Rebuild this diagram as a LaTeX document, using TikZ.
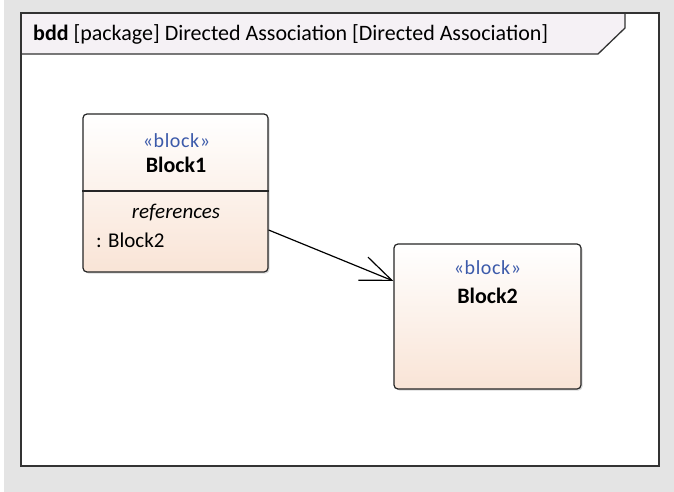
\documentclass[tikz,border=0pt]{standalone}
\usepackage{fontspec}
\setmainfont{Carlito}
\usetikzlibrary{arrows.meta,shadows}
\definecolor{bggray}{RGB}{228,228,228}
\definecolor{hdrfill}{RGB}{245,241,245}
\definecolor{peach}{RGB}{249,228,214}
\definecolor{stereo}{RGB}{60,90,170}

\begin{document}
\begin{tikzpicture}[x=1pt,y=-1pt,
    block/.style ={draw=black!85, line width=1.2pt, rounded corners=4pt,
       top color=white, bottom color=peach, drop shadow={shadow xshift=1.5pt,shadow yshift=-1.5pt,opacity=0.3}},
    stereotype/.style ={anchor=base, text=stereo, inner sep=0pt,
       font=\fontsize{20}{22}\selectfont\addfontfeatures{LetterSpace=3}},
    blockname/.style ={anchor=base, inner sep=0pt, font=\fontsize{22}{24}\selectfont\bfseries},
    compart/.style ={inner sep=0pt, font=\fontsize{21}{23}\selectfont}]
   \useasboundingbox (0,0) rectangle (674,492);
   \fill[bggray] (4,0) rectangle (674,492);
   % frame
   \draw[white, fill=white] (21,13) rectangle (659,466);
   \draw[hdrfill, fill=hdrfill] (21,13) -- (625,13) -- (625,28) -- (598,54) -- (21,54) -- cycle;
   \draw[black!80, line width=1.6pt] (21,13) rectangle (659,466);
   \draw[black!80, line width=1.3pt] (625,13) -- (625,28) -- (598,54) -- (21,54);
   \node[anchor=base west, font=\fontsize{22}{24}\selectfont, inner sep=0pt] (title) at (33,41)
      {\textbf{bdd} [package] Directed Association [Directed Association]};
   % blocks
   \node[block, minimum width=185pt, minimum height=158pt] (b1) at (175.5,193) {};
   \node[block, minimum width=187pt, minimum height=145pt] (b2) at (487.5,316.5) {};
   \draw[black!85, line width=1.2pt] (b1.west |- 0,191) -- (b1.east |- 0,191);
   \node[stereotype] (s1) at (176.5,147) {«block»};
   \node[blockname] (n1) at (176,172) {Block1};
   \node[compart, anchor=base, font=\fontsize{21}{23}\selectfont\itshape] (c1) at (176,218) {references};
   \node[compart, anchor=base west] (p1) at (96,247) {: Block2};
   \node[stereotype] (s2) at (487.5,274) {«block»};
   \node[blockname] (n2) at (487.5,303) {Block2};
   % directed association
   \draw[line width=1.2pt, -{Straight Barb[length=31pt, width=25pt, line width=1.2pt]}]
      ([yshift=-37pt]b1.east) -- ([yshift=35.5pt]b2.west);
 \end{tikzpicture}
\end{document}
